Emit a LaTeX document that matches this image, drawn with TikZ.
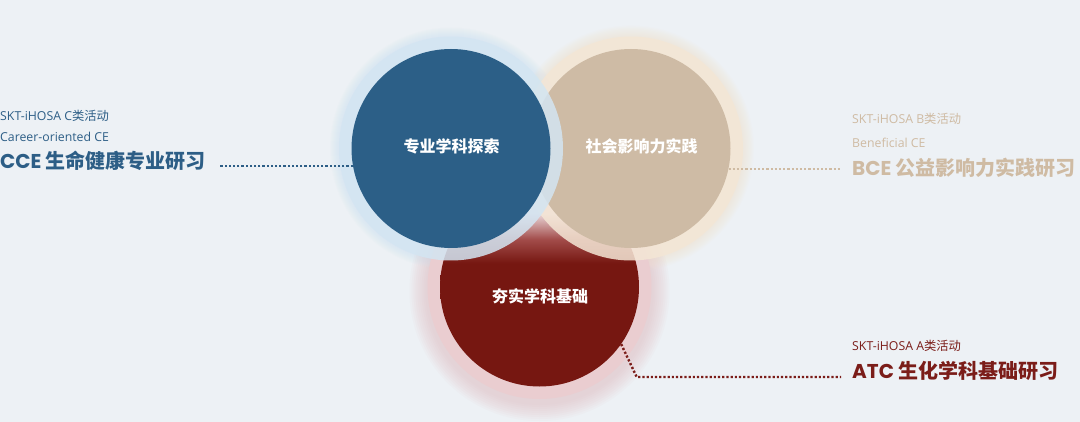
\documentclass[tikz,border=0pt]{standalone}
\usepackage{fontspec}
\setmainfont{Poppins}
\newfontfamily\lat{Open Sans}
\newfontfamily\cjk{Noto Sans CJK SC}
\definecolor{bg}{HTML}{EDF1F5}
\definecolor{cblue}{HTML}{2C5F87}
\definecolor{cbeige}{HTML}{CEBBA5}
\definecolor{cred}{HTML}{761711}
\definecolor{ringblue}{HTML}{D3E5F2}
\definecolor{ringbeige}{HTML}{F4E6D5}
\definecolor{ringred}{HTML}{EACDD0}
\definecolor{glowred}{HTML}{E3B9BE}
\definecolor{redmid}{HTML}{A24C4A}
\definecolor{redpale}{HTML}{EBD8DA}
\definecolor{tblue}{HTML}{2D5E86}
\definecolor{tbeige}{HTML}{CFBBA3}
\definecolor{tred}{HTML}{7B1D19}
\pgfdeclareverticalshading{redfade}{100bp}{color(0bp)=(cred); color(56bp)=(cred); color(62bp)=(redmid); color(68.5bp)=(redpale); color(100bp)=(redpale)}
\begin{document}
\begin{tikzpicture}[x=1pt,y=-1pt,
  disc/.style={circle,minimum size=199pt,inner sep=0pt,draw=none},
  lbl/.style={font=\cjk\bfseries\fontsize{16}{18}\selectfont,text=white,inner sep=0pt},
  small/.style={anchor=base west,inner sep=0pt,font=\lat\fontsize{12.3}{14}\selectfont},
  big/.style={anchor=base west,inner sep=0pt,font=\bfseries\fontsize{20}{22}\selectfont},
  dotline/.style={line width=2.4pt,dash pattern=on 2.2pt off 2pt}]
\useasboundingbox (0,0) rectangle (1080,422);
\fill[bg] (0,0) rectangle (1080,422);
% soft glows (transparent layers)
\foreach \i in {1,...,9}{
  \fill[glowred,opacity=0.07] (539.5,291) circle (112+2*\i);
  \fill[ringbeige,opacity=0.09] (631,148.5) circle (112+1.2*\i);
  \fill[ringblue,opacity=0.09] (451,148.5) circle (112+1*\i);
}
% red circle
\fill[ringred] (539.5,287) circle (112);
\node[disc,shading=redfade] (atc) at (539.5,287) {};
% beige circle
\fill[ringbeige,opacity=0.85] (631,148.5) circle (112);
\node[disc,fill=cbeige] (bce) at (631,148.5) {};
% blue circle
\fill[ringblue,opacity=0.85] (451,148.5) circle (112);
\node[disc,fill=cblue] (cce) at (451,148.5) {};
% labels in circles
\node[lbl] (l1) at (451.5,146) {专业学科探索};
\node[lbl] (l2) at (641.5,146) {社会影响力实践};
\node[lbl] (l3) at (540,296.5) {夯实学科基础};
% left texts
\node[small,text=tblue] (c1) at (0,121) {SKT-iHOSA C{\cjk 类活动}};
\node[small,text=tblue] (c2) at (0,141.7) {Career-oriented CE};
\node[big,text=tblue] (c3) at (0,168.3) {CCE {\cjk 生命健康专业研习}};
% right texts
\node[small,text=tbeige] (b1) at (852,123.3) {SKT-iHOSA B{\cjk 类活动}};
\node[small,text=tbeige] (b2) at (852,147.3) {Beneficial CE};
\node[big,text=tbeige] (b3) at (852,175.5) {BCE {\cjk 公益影响力实践研习}};
% bottom texts
\node[small,text=tred] (a1) at (852,351) {SKT-iHOSA A{\cjk 类活动}};
\node[big,text=tred] (a2) at (852,378.3) {ATC {\cjk 生化学科基础研习}};
% connectors
\coordinate (lend) at (220,167);
\coordinate (rend) at (840,169);
\coordinate (bk) at (636.7,377);
\coordinate (bend) at (841,377);
\draw[dotline,tblue] (cce.190) -- (cce.190 -| lend);
\draw[dotline,tbeige] (bce.-12.5) -- (bce.-12.5 -| rend);
\draw[dotline,tred] (atc.-35) -- (bk) -- (bend);
\end{tikzpicture}
\end{document}
